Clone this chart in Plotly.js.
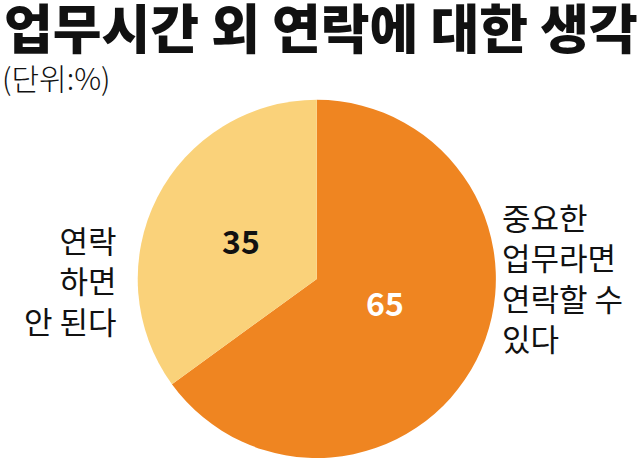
<!DOCTYPE html>
<html><head><meta charset="utf-8">
<script src="https://cdn.plot.ly/plotly-3.0.1.min.js"></script>
<style>html,body{margin:0;padding:0;background:#fff}#c{width:640px;height:458px}</style>
</head><body><div id="c"></div>
<script>
const categories = ["중요한<br>업무라면<br>연락할 수<br>있다", "연락<br>하면<br>안 된다"];
const values = [65, 35];
const colors = ["#EF8521", "#FAD27A"];
const titleText = "업무시간 외 연락에 대한 생각";
const unitText = "(단위:%)";

const F = "Noto Sans CJK KR";
const data = [{
  type: "pie",
  values: values,
  labels: categories,
  marker: {colors: colors, line: {width: 0}},
  sort: false,
  direction: "clockwise",
  rotation: 0,
  textinfo: "none",
  hoverinfo: "none",
  showlegend: false,
  domain: {x: [0.2, 0.79], y: [-0.003, 0.782]}
}];
const layout = {
  width: 640, height: 458,
  margin: {l: 0, r: 0, t: 0, b: 0},
  paper_bgcolor: "#fff",
  showlegend: false,
  annotations: [
    {text: titleText, xref: "paper", yref: "paper", x: 0.003, y: 1.03, xanchor: "left", yanchor: "top", showarrow: false, font: {family: F, size: 53, weight: 900, color: "#111"}},
    {text: unitText, xref: "paper", yref: "paper", x: 0.0, y: 0.885, xanchor: "left", yanchor: "top", showarrow: false, font: {family: F, size: 30, weight: 300, color: "#111"}},
    {text: "<b>" + values[1] + "</b>", xref: "paper", yref: "paper", x: 241/640, y: 1 - 240/458, showarrow: false, font: {family: F, size: 32, color: "#111"}},
    {text: "<b>" + values[0] + "</b>", xref: "paper", yref: "paper", x: 385/640, y: 1 - 327/458, showarrow: false, font: {family: F, size: 32, color: "#fff"}},
    {text: categories[1], xref: "paper", yref: "paper", x: 119/640, y: 1 - 215/458, xanchor: "right", yanchor: "top", align: "right", showarrow: false, font: {family: F, size: 31, color: "#111"}},
    {text: categories[0], xref: "paper", yref: "paper", x: 500/640, y: 1 - 192/458, xanchor: "left", yanchor: "top", align: "left", showarrow: false, font: {family: F, size: 31, color: "#111"}}
  ]
};
Plotly.newPlot("c", data, layout, {staticPlot: true, displayModeBar: false});
</script></body></html>
